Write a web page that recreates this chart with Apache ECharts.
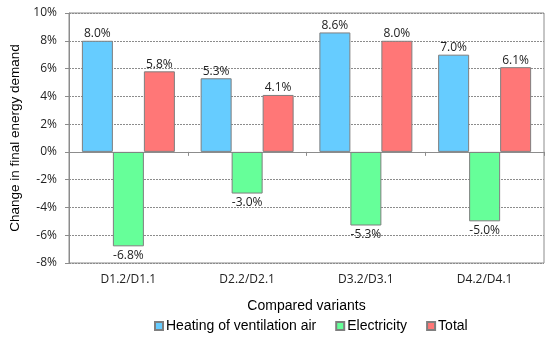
<!DOCTYPE html>
<html><head><meta charset="utf-8">
<script src="https://cdn.jsdelivr.net/npm/echarts@6/dist/echarts.min.js"></script>
<style>html,body{margin:0;padding:0;background:#fff}#c{width:550px;height:339px}</style>
</head><body><div id="c"></div>
<script>
const categories = ['D1.2/D1.1', 'D2.2/D2.1', 'D3.2/D3.1', 'D4.2/D4.1'];
const heating = [8.0, 5.3, 8.6, 7.0];
const electricity = [-6.8, -3.0, -5.3, -5.0];
const total = [5.8, 4.1, 8.0, 6.1];
const seriesNames = ['Heating of ventilation air', 'Electricity', 'Total'];
const colors = ['#66CCFF', '#66FF99', '#FF7777'];

const chart = echarts.init(document.getElementById('c'));
const lblFont = 'Open Sans';
function mk(name, data, color) {
  return {
    name, type: 'bar', barWidth: 31, barGap: '0%', xAxisIndex: 0,
    itemStyle: { color, borderColor: '#7f7f7f', borderWidth: 1 },
    label: {
      show: true, distance: 2,
      formatter: p => p.value.toFixed(1) + '%',
      fontFamily: lblFont, fontSize: 12, color: '#222'
    },
    data: data.map(v => ({ value: v, label: { position: v >= 0 ? 'top' : 'bottom', distance: v >= 0 ? 1 : 3 } }))
  };
}
const series = [mk(seriesNames[0], heating, colors[0]), mk(seriesNames[1], electricity, colors[1]), mk(seriesNames[2], total, colors[2])];

chart.setOption({
  animation: false,
  grid: { left: 67, right: 6, top: 13, bottom: 76, show: true, borderColor: '#8c8c8c', borderWidth: 1 },
  legend: {
    data: seriesNames, bottom: 1, left: 149, itemWidth: 8, itemHeight: 8, itemGap: 19,
    icon: 'rect',
    textStyle: { fontFamily: 'Liberation Sans', fontSize: 14, color: '#000', padding: [0, 0, 0, -2] }
  },
  xAxis: [
    {
      type: 'category', data: categories,
      axisLine: { onZero: true, lineStyle: { color: '#8c8c8c' } },
      axisTick: { show: true, length: 4, lineStyle: { color: '#8c8c8c' } },
      axisLabel: { show: false }, splitLine: { show: false }
    },
    {
      type: 'category', data: categories, position: 'bottom',
      axisLine: { show: false, onZero: false }, axisTick: { show: false },
      axisLabel: { fontFamily: lblFont, fontSize: 12, color: '#222', margin: 11 },
      name: 'Compared variants', nameLocation: 'middle', nameGap: 36,
      nameTextStyle: { fontFamily: 'Liberation Sans', fontSize: 14, color: '#000' }
    }
  ],
  yAxis: {
    type: 'value', min: -8, max: 10, interval: 2,
    axisLine: { show: true, lineStyle: { color: '#8c8c8c' } },
    axisTick: { show: true, length: 4, lineStyle: { color: '#8c8c8c' } },
    axisLabel: { formatter: '{value}%', fontFamily: lblFont, fontSize: 12, color: '#222', margin: 12 },
    splitLine: { lineStyle: { color: '#8c8c8c', type: [2, 1] } },
    name: 'Change in final energy demand', nameLocation: 'middle', nameGap: 47,
    nameTextStyle: { fontFamily: 'Liberation Sans', fontSize: 13.5, color: '#000' }
  },
  series
});
</script></body></html>
